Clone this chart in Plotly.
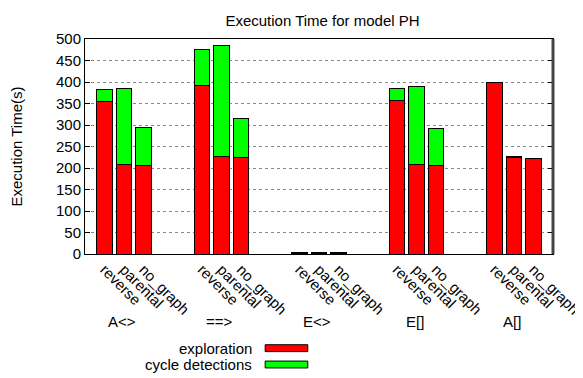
import plotly.graph_objects as go

# data
groups = ["A<>", "==>", "E<>", "E[]", "A[]"]
variants = ["reverse", "parental", "no_graph"]

# exploration time (red), per group, per variant
exploration = [
    [355, 207, 205],
    [391, 226, 225],
    [1, 2, 1],
    [356, 209, 205],
    [398, 225, 222],
]
# cycle detections time (green), stacked on top
cycle_detections = [
    [27, 178, 89],
    [85, 260, 89],
    [1.5, 0.5, 1.5],
    [28, 180, 87],
    [1, 2, 0.5],
]

font = "Liberation Sans, Arial, sans-serif"

# bar positions: groups 5 units apart, bars 1 unit apart
xs, tick_text, red_vals, green_vals = [], [], [], []
for gi, g in enumerate(groups):
    for vi, v in enumerate(variants):
        xs.append(5 * gi + vi)
        tick_text.append(v)
        red_vals.append(exploration[gi][vi])
        green_vals.append(cycle_detections[gi][vi])

fig = go.Figure()
fig.add_trace(go.Bar(x=xs, y=red_vals, name="exploration", width=0.77,
                     marker=dict(color="#ff0000", line=dict(color="black", width=1))))
fig.add_trace(go.Bar(x=xs, y=green_vals, name="cycle detections", width=0.77,
                     marker=dict(color="#00ff00", line=dict(color="black", width=1))))

# page body has an 8px margin, so the figure is sized to fit inside the window
fig.update_layout(
    barmode="stack",
    width=575, height=370,
    margin=dict(l=77, r=30, t=31, b=124, autoexpand=False),
    plot_bgcolor="white", paper_bgcolor="white",
    font=dict(family=font, size=15, color="black"),
    showlegend=False,
    title=dict(text="Execution Time for model PH", x=0.547, xanchor="center",
               y=0.965, yanchor="middle", font=dict(size=15)),
)

fig.update_xaxes(
    range=[-1, 23], tickmode="array", tickvals=xs, ticktext=tick_text,
    tickangle=45, ticks="", showgrid=False, zeroline=False, automargin=False,
    showline=True, linecolor="black", linewidth=1, mirror=True,
    tickfont=dict(size=15),
)
fig.update_yaxes(
    range=[0, 500], dtick=50, ticks="inside", ticklen=5, tickcolor="black",
    showgrid=True, gridcolor="#888888", griddash="dot", gridwidth=1,
    zeroline=False, showline=True, linecolor="black", linewidth=1, mirror="ticks",
    automargin=False,
    title=dict(text="Execution Time(s)", standoff=30, font=dict(size=15)),
    tickfont=dict(size=15),
)

# group labels under the rotated tick labels
for gi, g in enumerate(groups):
    fig.add_annotation(x=5 * gi + 0.9, y=-0.316, xref="x", yref="paper",
                       text=g, showarrow=False, xanchor="center", yanchor="middle",
                       font=dict(size=15))

# legend drawn gnuplot style: text on the left, swatch on the right
legend_items = [("exploration", "#ff0000", -0.438), ("cycle detections", "#00ff00", -0.514)]
for label, color, yy in legend_items:
    fig.add_annotation(x=0.361, y=yy, xref="paper", yref="paper", text=label,
                       showarrow=False, xanchor="right", yanchor="middle",
                       font=dict(size=15))
    fig.add_shape(type="rect", xref="paper", yref="paper",
                  x0=0.385, x1=0.476, y0=yy - 0.016, y1=yy + 0.016,
                  fillcolor=color, line=dict(color="black", width=1))

# thicker grey right border like the reference
fig.add_shape(type="line", xref="paper", yref="paper", x0=1, x1=1, y0=0, y1=1,
              line=dict(color="#444444", width=3))

fig.write_html("out.html")
